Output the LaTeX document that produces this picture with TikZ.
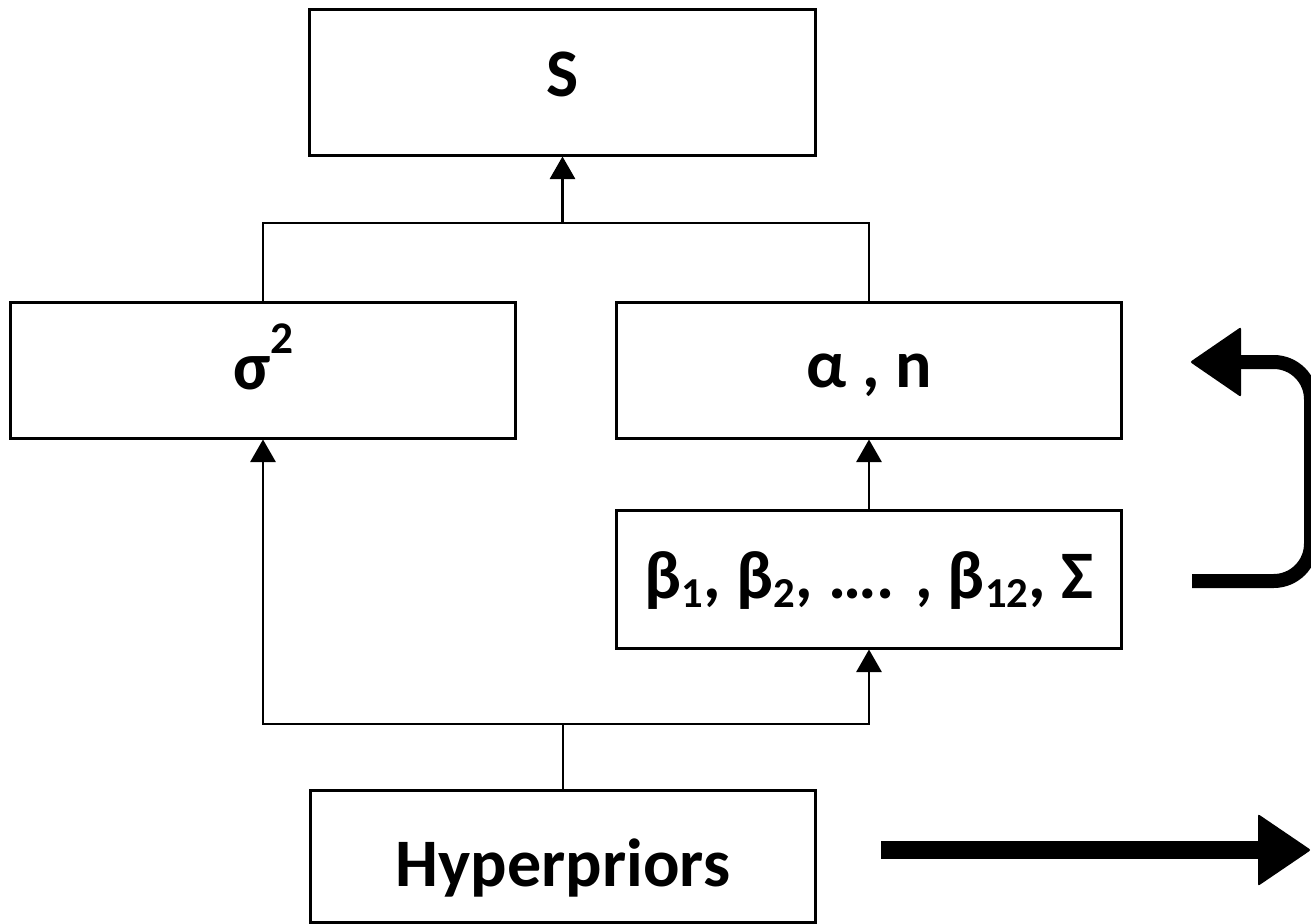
\documentclass[tikz,border=0pt]{standalone}
\usepackage{fontspec}
\setmainfont{Carlito}
\usetikzlibrary{arrows.meta}
\newcommand{\sbs}[1]{\raisebox{-7pt}{\fontsize{32}{32}\selectfont #1}}
\newcommand{\sps}[1]{\raisebox{27pt}{\fontsize{34}{34}\selectfont #1}}
\begin{document}
\begin{tikzpicture}[x=0.75pt,y=-0.75pt,
  box/.style={draw,line width=2.25pt,inner sep=0pt,minimum width=379pt,minimum height=102pt,
    font=\fontsize{51}{51}\selectfont\bfseries,text height=33pt,text depth=0pt},
  conn/.style={line width=1.8pt},
  arr/.style={conn,-{Triangle[length=17pt,width=19pt]}},
  bigline/.style={line width=10.5pt},
  bighead/.style={fill=black,rounded corners=1.5pt}]
\useasboundingbox (0,0) rectangle (1311,924);
\clip (0,0) rectangle (1311,924);
% boxes
\node[box,minimum height=108.75pt] (S) at (562.5,82.5) {\raisebox{6pt}{S}};
\node[box] (sig) at (263,370) {\raisebox{2pt}{σ\sps{2}}};
\node[box] (alpha) at (869,370) {\raisebox{3.5pt}{α , n}};
\node[box,minimum height=103.5pt] (beta) at (869,579) {\raisebox{2pt}{β\sbs{1}, β\sbs{2}, …. , β\sbs{12}, Σ}};
\node[box,minimum height=99pt] (hyp) at (563,856) {\raisebox{-6.5pt}{Hyperpriors}};
% junctions
\coordinate (jt) at (562.5,223);
\coordinate (jb) at (563,724);
\draw[conn] (sig.north) -- (sig.north |- jt) -- (alpha.north |- jt) -- (alpha.north);
\draw[arr] (jt) -- (S.south);
\draw[conn] (hyp.north) -- (jb);
\draw[arr] (jb) -| (sig.south);
\draw[arr] (jb) -| (beta.south);
\draw[arr] (beta.north) -- (alpha.south);
% thick curved arrow
\coordinate (c0) at (1192,581);
\coordinate (c1) at (1311,581);
\coordinate (c2) at (1311,362);
\coordinate (c3) at (1236,362);
\draw[bigline,rounded corners=28pt] (c0) -- (c1) -- (c2) -- (c3);
\fill[bighead] (1241,327) -- (1190,362) -- (1241,397) -- cycle;
% thick straight arrow
\coordinate (d0) at (881,850);
\coordinate (d1) at (1261,850);
\draw[line width=13.5pt] (d0) -- (d1);
\fill[bighead] (1258,814) -- (1311,850) -- (1258,886) -- cycle;
\end{tikzpicture}
\end{document}
